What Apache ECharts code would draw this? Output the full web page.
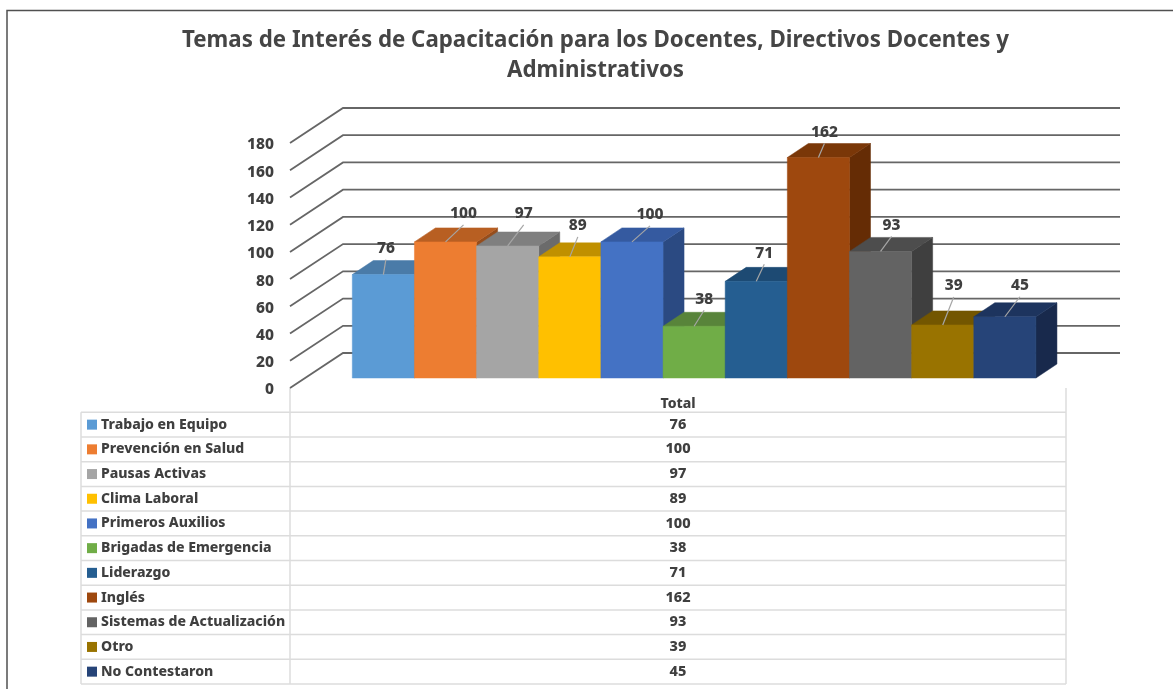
<!DOCTYPE html>
<html><head><meta charset="utf-8">
<style>html,body{margin:0;padding:0;background:#fff}#c{width:1173px;height:689px}</style>
<script src="https://cdn.jsdelivr.net/npm/echarts@6/dist/echarts.min.js"></script>
</head><body><div id="c"></div>
<script>
const titleText = 'Temas de Interés de Capacitación para los Docentes, Directivos Docentes y\nAdministrativos';
const axisCategory = ['Total'];
const topics = ['Trabajo en Equipo','Prevención en Salud','Pausas Activas','Clima Laboral','Primeros Auxilios','Brigadas de Emergencia','Liderazgo','Inglés','Sistemas de Actualización','Otro','No Contestaron'];
const totals = [76,100,97,89,100,38,71,162,93,39,45];
const yTicks = [0,20,40,60,80,100,120,140,160,180];

// styling
const frontColors = ['#5b9bd5','#ed7d31','#a5a5a5','#ffc000','#4472c4','#70ad47','#255e91','#9e480e','#636363','#997300','#264478'];
const topColors   = ['#4a7ba8','#b85f22','#7f7f7f','#c09000','#355aa0','#58843a','#1d4a73','#7a3708','#4d4d4d','#735600','#1d345e'];
const sideColors  = ['#3c6588','#964d1c','#6b6b6b','#9c7500','#2b4a82','#47692e','#183c5e','#652c05','#3f3f3f','#5f4700','#18294c'];
// leader end offsets from the top-centre of each bar's front face
const leaderOffsets = [[2.5,-15],[18,-17],[16,-21],[8,-20],[18,-16],[10,-16],[8,-17],[6,-14],[11,-15],[11,-28],[15,-20]];

const TXT = '#3f3f3f', FONT = '"Noto Sans", sans-serif', W = 800;
const GRID = {left:290, right:107, top:143, bottom:301};
const WALL = {dx:53, dy:-35, endX:1120};
const BAR = {shiftX:62.3, width:62.15, shiftY:-10, dx:21, dy:-14};
const TABLE = {left:81, mid:290, right:1066, top:412.3, rowH:24.7, axisY:388, line:'#dcdcdc'};

function poly(pts, fill, z2){
  return {type:'polygon', shape:{points:pts}, z2, style:{fill, stroke:fill, lineWidth:0.5}};
}
function barSeries(i){
  return {
    type:'custom', name:topics[i], coordinateSystem:'cartesian2d', clip:false, silent:true,
    data:[[axisCategory[0], totals[i]]],
    encode:{x:0,y:1},
    renderItem(params, api){
      const top = api.coord([api.value(0), api.value(1)]);
      const base = api.coord([api.value(0), 0]);
      const x0 = GRID.left + BAR.shiftX + BAR.width*i, x1 = x0 + BAR.width;
      const yT = top[1] + BAR.shiftY, yB = base[1] + BAR.shiftY;
      const d = BAR.dx, e = BAR.dy;
      const cx = (x0+x1)/2, off = leaderOffsets[i];
      return {type:'group', children:[
        poly([[x1,yB],[x1+d,yB+e],[x1+d,yT+e],[x1,yT]], sideColors[i], i*3),
        poly([[x0,yT],[x1,yT],[x1+d,yT+e],[x0+d,yT+e]], topColors[i], i*3+1),
        poly([[x0,yB],[x1,yB],[x1,yT],[x0,yT]], frontColors[i], i*3+2),
        {type:'line', z2:100, shape:{x1:cx, y1:yT, x2:cx+off[0], y2:yT+off[1]}, style:{stroke:'#a6a6a6', lineWidth:1.2}},
        {type:'text', z2:101, x:cx+off[0], y:yT+off[1]-11, style:{text:String(totals[i]), fill:TXT, font:W+' 15.5px '+FONT, textAlign:'center', textVerticalAlign:'middle'}}
      ]};
    }
  };
}
const wallSeries = {
  type:'custom', name:'grid', coordinateSystem:'cartesian2d', clip:false, silent:true, z:1,
  data:yTicks.map(t=>[axisCategory[0], t]), encode:{x:0,y:1},
  renderItem(params, api){
    const y = api.coord([api.value(0), api.value(1)])[1];
    const x = GRID.left;
    return {type:'polyline', shape:{points:[[x,y],[x+WALL.dx,y+WALL.dy],[WALL.endX,y+WALL.dy]]}, style:{stroke:'#666666', lineWidth:1.8, fill:null}};
  }
};

// data table built from the arrays
const g = [];
const hl = (x1,x2,y)=>g.push({type:'line', shape:{x1,y1:y,x2,y2:y}, style:{stroke:TABLE.line, lineWidth:1.5}, silent:true});
const vl = (x,y1,y2,c)=>g.push({type:'line', shape:{x1:x,y1,x2:x,y2}, style:{stroke:c||TABLE.line, lineWidth:1.5}, silent:true});
for(let r=0;r<=topics.length;r++) hl(TABLE.left, TABLE.right, TABLE.top+r*TABLE.rowH);
const tableBottom = TABLE.top+topics.length*TABLE.rowH;
vl(TABLE.left, TABLE.top, tableBottom);
vl(TABLE.mid, TABLE.axisY, tableBottom);
vl(TABLE.right, TABLE.axisY, tableBottom);
topics.forEach((t,i)=>{
  const cy = TABLE.top + TABLE.rowH*(i+0.5);
  g.push({type:'rect', shape:{x:87, y:cy-5, width:10, height:10}, style:{fill:frontColors[i]}, silent:true});
  g.push({type:'text', x:101, y:cy, style:{text:t, fill:TXT, font:W+' 14.05px '+FONT, textAlign:'left', textVerticalAlign:'middle'}, silent:true});
  g.push({type:'text', x:678, y:cy, style:{text:String(totals[i]), fill:TXT, font:W+' 14.5px '+FONT, textAlign:'center', textVerticalAlign:'middle'}, silent:true});
});
// outer frame
g.push({type:'polyline', shape:{points:[[7,689],[7,10.5],[1173,10.5]]}, style:{stroke:'#505050', lineWidth:1.5, fill:null}, silent:true});

const chart = echarts.init(document.getElementById('c'), null, {renderer:'canvas'});
chart.setOption({
  animation:false, backgroundColor:'#fff',
  title:{text:titleText, left:590.5, top:21, textAlign:'center',
    textStyle:{fontFamily:FONT, fontSize:22.3, fontWeight:'bold', color:'#454545', lineHeight:29.5}},
  grid:GRID,
  xAxis:{type:'category', data:axisCategory, axisLine:{show:false}, axisTick:{show:false}, splitLine:{show:false},
    axisLabel:{margin:9, color:TXT, fontFamily:FONT, fontWeight:W, fontSize:14}},
  yAxis:{type:'value', min:0, max:180, interval:20, axisLine:{show:false}, axisTick:{show:false}, splitLine:{show:false},
    axisLabel:{margin:16, formatter:'{n|{value}}',
      rich:{n:{padding:[4,0,0,0], color:TXT, fontFamily:FONT, fontWeight:W, fontSize:15.5}}}},
  series:[wallSeries, ...topics.map((_,i)=>barSeries(i))],
  graphic:g
});
</script></body></html>
